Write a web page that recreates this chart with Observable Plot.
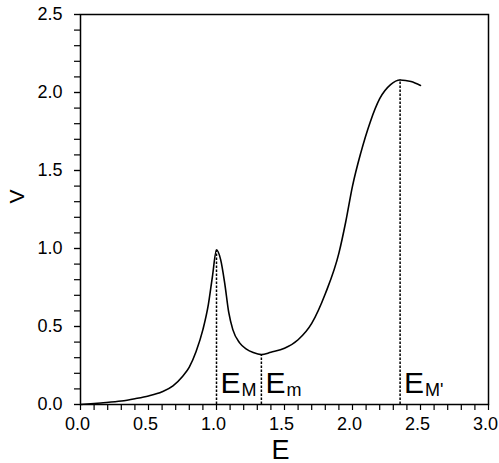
<!DOCTYPE html>
<html><head>
<meta charset="utf-8">
<script src="https://cdn.jsdelivr.net/npm/d3@7"></script>
<script src="https://cdn.jsdelivr.net/npm/@observablehq/plot@0.6"></script>
<style>body{margin:0;background:#fff}</style>
</head><body><div id="chart"></div>
<script>
const energy  = [0, 0.15, 0.3, 0.4, 0.5, 0.6, 0.68, 0.75, 0.8, 0.85, 0.9, 0.94, 0.97, 1.0, 1.03, 1.06, 1.09, 1.12, 1.17, 1.22, 1.27, 1.33, 1.4, 1.5, 1.6, 1.7, 1.8, 1.9, 1.95, 2.0, 2.06, 2.13, 2.2, 2.28, 2.35, 2.43, 2.5];
const voltage = [0, 0.01, 0.022, 0.037, 0.055, 0.082, 0.12, 0.18, 0.24, 0.34, 0.48, 0.64, 0.82, 0.99, 0.93, 0.78, 0.59, 0.48, 0.395, 0.355, 0.333, 0.32, 0.335, 0.36, 0.415, 0.52, 0.71, 0.97, 1.17, 1.4, 1.61, 1.81, 1.96, 2.05, 2.08, 2.07, 2.045];
const markerE = [1.0, 1.33, 2.35];
const markerV = [0.99, 0.32, 2.08];
const markerSub = ["M", "m", "M'"];
const xTicks = [0, 0.5, 1.0, 1.5, 2.0, 2.5, 3.0];
const yTicks = [0, 0.5, 1.0, 1.5, 2.0, 2.5];
const xMinor = d3.range(0, 31).map(i => i / 10);
const yMinor = d3.range(0, 26).map(i => i / 10);

const curve = energy.map((e, i) => ({E: e, V: voltage[i]}));
const markers = markerE.map((e, i) => ({E: e, V: markerV[i], sub: markerSub[i]}));
const fmt = d3.format(".1f");
const FONT = "'Liberation Sans', Arial, sans-serif";
const NARROW = "'Liberation Sans Narrow', 'Liberation Sans', Arial, sans-serif";

const chart = Plot.plot({
  width: 499,
  height: 463,
  marginLeft: 80,
  marginRight: 11,
  marginTop: 14,
  marginBottom: 59,
  style: {fontFamily: FONT, background: "#fff", color: "#000"},
  x: {domain: [0, 3]},
  y: {domain: [0, 2.5]},
  marks: [
    Plot.axisX({ticks: xMinor, tickSize: 6, text: null, label: null, strokeWidth: 1.2}),
    Plot.axisX({ticks: xTicks, tickSize: 0, tickPadding: 13, tickFormat: fmt, fontSize: 18, dx: -3, label: null}),
    Plot.axisY({ticks: yMinor, tickSize: 6, text: null, label: null, strokeWidth: 1.2}),
    Plot.axisY({ticks: yTicks, tickSize: 6, tickPadding: 12, tickFormat: fmt, fontSize: 18, label: null, strokeWidth: 1.2}),
    Plot.frame({stroke: "#000", strokeWidth: 1.5}),
    Plot.ruleX(markers, {x: "E", y1: 0, y2: "V", stroke: "#000", strokeWidth: 1.5, strokeDasharray: "2.5,1.5"}),
    Plot.line(curve, {x: "E", y: "V", curve: "monotone-x", stroke: "#000", strokeWidth: 1.6}),
    Plot.text(markers, {x: "E", y: 0, text: () => "E", textAnchor: "start", lineAnchor: "bottom", dx: 4, dy: -12, fontSize: 30, fill: "#000"}),
    Plot.text(markers, {x: "E", y: 0, text: "sub", textAnchor: "start", lineAnchor: "bottom", dx: 25, dy: -9, fontSize: 18, fill: "#000"}),
    Plot.text(["E"], {frameAnchor: "bottom", dx: -4, dy: 54, lineAnchor: "bottom", fontSize: 27, fontFamily: NARROW, fill: "#000"}),
    Plot.text(["V"], {frameAnchor: "left", dx: -63, dy: -6, rotate: -90, lineAnchor: "middle", fontSize: 21, fontFamily: NARROW, fill: "#000"})
  ]
});
document.getElementById("chart").appendChild(chart);
</script>
</body></html>
